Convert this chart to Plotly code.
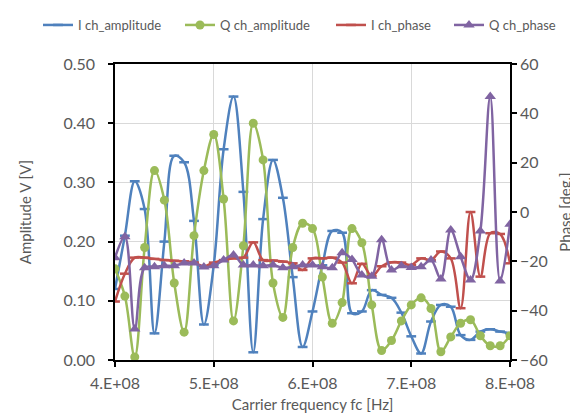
import plotly.graph_objects as go

freq = [4.0e8 + i * 1e7 for i in range(41)]

i_amp = [0.12, 0.21, 0.302, 0.255, 0.045, 0.20, 0.345, 0.334, 0.235, 0.06,
         0.16, 0.356, 0.445, 0.284, 0.013, 0.238, 0.338, 0.274, 0.14, 0.022,
         0.082, 0.16, 0.218, 0.215, 0.079, 0.082, 0.118, 0.11, 0.105, 0.08,
         0.04, 0.011, 0.065, 0.093, 0.09, 0.042, 0.034, 0.048, 0.052, 0.048, 0.045]

q_amp = [0.154, 0.108, 0.005, 0.19, 0.32, 0.27, 0.13, 0.047, 0.21, 0.32,
         0.381, 0.272, 0.066, 0.193, 0.40, 0.338, 0.13, 0.072, 0.19, 0.231,
         0.222, 0.14, 0.062, 0.097, 0.222, 0.198, 0.093, 0.016, 0.033, 0.066,
         0.093, 0.105, 0.087, 0.014, 0.039, 0.062, 0.068, 0.041, 0.024, 0.024, 0.041]

i_phase = [-36.3, -25, -18.5, -18.5, -19, -19.5, -19.8, -20, -20.5, -22,
           -20.5, -19.5, -18.8, -18.5, -12.3, -19.5, -19.7, -20.1, -20.8, -23.5,
           -18.8, -18.8, -18.5, -20.5, -28.9, -21, -26, -22, -20.4, -20.5,
           -21.5, -18.8, -19.5, -16, -18.8, -39, 0, -26.2, -8.6, -8.9, -20.8]

q_phase = [-18.5, -10, -47.4, -22.6, -22.2, -21.8, -21.8, -20.7, -20.7, -22.3,
           -21.8, -19.5, -17.4, -21.5, -21.5, -21.8, -21.5, -22.6, -22.2, -21.5,
           -21.5, -22.2, -22.6, -16.5, -19.3, -25.5, -26, -11.3, -23.5, -21.8,
           -22.5, -22.2, -19.5, -27.2, -7.3, -18.1, -27.6, -7.7, 46.8, -28, -5]

x_tickvals = [4e8, 5e8, 6e8, 7e8, 8e8]
x_ticktext = ["4.E+08", "5.E+08", "6.E+08", "7.E+08", "8.E+08"]

BLUE = "#4F81BD"
GREEN = "#9BBB59"
RED = "#C0504D"
PURPLE = "#8064A2"
GRAY = "#595959"
FONT = "Lato"

fig = go.Figure()
fig.add_trace(go.Scatter(
    x=freq, y=i_amp, name="I ch_amplitude", mode="lines+markers", legend="legend",
    line=dict(color=BLUE, width=2.5, shape="spline", smoothing=1.0),
    marker=dict(symbol="line-ew", size=7, line=dict(color=BLUE, width=2.5)),
))
fig.add_trace(go.Scatter(
    x=freq, y=q_amp, name="Q ch_amplitude", mode="lines+markers", legend="legend2",
    line=dict(color=GREEN, width=2.5, shape="spline", smoothing=1.0),
    marker=dict(symbol="circle", size=9, color=GREEN),
))
fig.add_trace(go.Scatter(
    x=freq, y=i_phase, name="I ch_phase", mode="lines+markers", yaxis="y2", legend="legend3",
    line=dict(color=RED, width=2.5, shape="spline", smoothing=1.0),
    marker=dict(symbol="line-ew", size=7, line=dict(color=RED, width=2.5)),
))
fig.add_trace(go.Scatter(
    x=freq, y=q_phase, name="Q ch_phase", mode="lines+markers", yaxis="y2", legend="legend4",
    line=dict(color=PURPLE, width=2.5, shape="spline", smoothing=1.0),
    marker=dict(symbol="triangle-up", size=10, color=PURPLE),
))

def leg(xpix):
    return dict(orientation="h", x=xpix / 578, xref="container", xanchor="left",
                y=1 - 17 / 414, yref="container", yanchor="middle",
                font=dict(size=13, color=GRAY, family=FONT),
                itemwidth=30, bgcolor="rgba(0,0,0,0)")

fig.update_layout(
    width=578, height=414,
    margin=dict(l=107, r=76, t=56, b=62, autoexpand=False),
    paper_bgcolor="white", plot_bgcolor="white",
    font=dict(family=FONT, color=GRAY, size=15),
    showlegend=True,
    legend=leg(30), legend2=leg(172), legend3=leg(323), legend4=leg(441),
    xaxis=dict(
        range=[4e8, 8e8], tickvals=x_tickvals, ticktext=x_ticktext, tickangle=0,
        showgrid=True, gridcolor="#D9D9D9", gridwidth=1,
        showline=True, linecolor="black", linewidth=1.5, mirror=True,
        ticks="outside", ticklen=5, tickcolor="black", tickwidth=1.5,
        ticklabelstandoff=3, tickfont=dict(size=16, color=GRAY),
        zeroline=False,
        title=dict(text="Carrier frequency fc [Hz]", standoff=9, font=dict(size=15, color=GRAY)),
    ),
    yaxis=dict(
        range=[0, 0.5], dtick=0.1, tickformat=".2f",
        showgrid=True, gridcolor="#D9D9D9", gridwidth=1,
        showline=True, linecolor="black", linewidth=1.5,
        ticks="outside", ticklen=5, tickcolor="black", tickwidth=1.5,
        ticklabelstandoff=10, tickfont=dict(size=16, color=GRAY),
        zeroline=False,
        title=dict(text="Amplitude V [V]", standoff=28, font=dict(size=15, color=GRAY)),
    ),
    yaxis2=dict(
        range=[-60, 60], dtick=20, overlaying="y", side="right",
        showgrid=False, showline=True, linecolor="black", linewidth=1.5,
        ticks="outside", ticklen=5, tickcolor="black", tickwidth=1.5,
        tickfont=dict(size=16, color=GRAY),
        zeroline=False,
        title=dict(text="Phase [deg.]", standoff=14, font=dict(size=15, color=GRAY)),
    ),
)

fig.write_html("out.html")
